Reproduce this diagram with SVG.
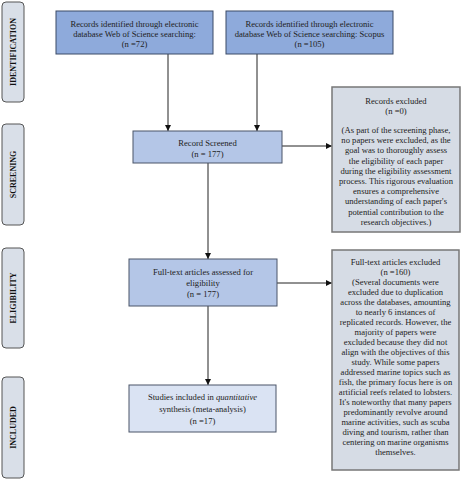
<svg xmlns="http://www.w3.org/2000/svg" width="461" height="480" viewBox="0 0 461 480">
<defs>
<style>
text{font-family:"Liberation Serif","Times New Roman",serif;font-size:8.6px;fill:#222;text-anchor:middle}
.side rect{fill:#d9dfe8;stroke:#555;stroke-width:1}
.side text{font-weight:bold;font-size:8px;fill:#111}
.b1{fill:#8eaadb;stroke:#3b4a66;stroke-width:1}
.b2{fill:#b4c6e7;stroke:#4a5568;stroke-width:1}
.b3{fill:#dae3f3;stroke:#4a5568;stroke-width:1}
.ex{fill:#d6dce5;stroke:#777;stroke-width:1.5}
.conn path{fill:none;stroke:#222;stroke-width:1}
</style>
<marker id="ah" viewBox="0 0 10 10" refX="10" refY="5" markerWidth="6" markerHeight="6" orient="auto" markerUnits="userSpaceOnUse">
<path d="M0,0 L10,5 L0,10 z" fill="#111"/>
</marker>
</defs>
<rect width="461" height="480" fill="#fff"/>

<g id="label-identification" class="side">
<rect x="2" y="2" width="22" height="100" rx="4"/>
<text transform="translate(16,52) rotate(-90)">IDENTIFICATION</text>
</g>
<g id="label-screening" class="side">
<rect x="2" y="124" width="22" height="101" rx="4"/>
<text transform="translate(16,174.5) rotate(-90)">SCREENING</text>
</g>
<g id="label-eligibility" class="side">
<rect x="2" y="248" width="22" height="100" rx="4"/>
<text transform="translate(16,298) rotate(-90)">ELIGIBILITY</text>
</g>
<g id="label-included" class="side">
<rect x="2" y="377" width="22" height="101" rx="4"/>
<text transform="translate(16,427.5) rotate(-90)">INCLUDED</text>
</g>

<g class="conn" id="connectors">
<path d="M168,54 V131" marker-end="url(#ah)"/>
<path d="M257,54 V131" marker-end="url(#ah)"/>
<path d="M282,146 H332" marker-end="url(#ah)"/>
<path d="M208,163 V259" marker-end="url(#ah)"/>
<path d="M277,283 H332" marker-end="url(#ah)"/>
<path d="M208,306 V385" marker-end="url(#ah)"/>
</g>

<g id="wos">
<rect class="b1" x="56" y="11" width="157" height="43"/>
<text x="134.5" y="27">Records identified through electronic</text>
<text x="134.5" y="37">database Web of Science searching:</text>
<text x="134.5" y="47">(n =72)</text>
</g>
<g id="scopus">
<rect class="b1" x="226" y="11" width="167" height="43"/>
<text x="309.5" y="27">Records identified through electronic</text>
<text x="309.5" y="37">database Web of Science searching: Scopus</text>
<text x="309.5" y="47">(n =105)</text>
</g>
<g id="screened">
<rect class="b2" x="133" y="131" width="149" height="32"/>
<text x="207.5" y="146">Record Screened</text>
<text x="207.5" y="157">(n = 177)</text>
</g>
<g id="excluded1">
<rect class="ex" x="332" y="87" width="128" height="145"/>
<text x="396" y="104">Records excluded</text>
<text x="396" y="114">(n =0)</text>
<text x="396" y="133">(As part of the screening phase,</text>
<text x="396" y="143.2">no papers were excluded, as the</text>
<text x="396" y="153.4">goal was to thoroughly assess</text>
<text x="396" y="163.6">the eligibility of each paper</text>
<text x="396" y="173.8">during the eligibility assessment</text>
<text x="396" y="184">process. This rigorous evaluation</text>
<text x="396" y="194.2">ensures a comprehensive</text>
<text x="396" y="204.4">understanding of each paper's</text>
<text x="396" y="214.6">potential contribution to the</text>
<text x="396" y="224.8">research objectives.)</text>
</g>
<g id="fulltext">
<rect class="b2" x="129" y="259" width="148" height="47"/>
<text x="203" y="275">Full-text articles assessed for</text>
<text x="203" y="286">eligibility</text>
<text x="203" y="296.5">(n = 177)</text>
</g>
<g id="excluded2">
<rect class="ex" x="332" y="250" width="127" height="220"/>
<text x="395.5" y="265">Full-text articles excluded</text>
<text x="395.5" y="275">(n =160)</text>
<text x="395.5" y="285">(Several documents were</text>
<text x="395.5" y="295">excluded due to duplication</text>
<text x="395.5" y="305">across the databases, amounting</text>
<text x="395.5" y="315">to nearly 6 instances of</text>
<text x="395.5" y="325">replicated records. However, the</text>
<text x="395.5" y="335">majority of papers were</text>
<text x="395.5" y="345">excluded because they did not</text>
<text x="395.5" y="355">align with the objectives of this</text>
<text x="395.5" y="365">study. While some papers</text>
<text x="395.5" y="375">addressed marine topics such as</text>
<text x="395.5" y="385">fish, the primary focus here is on</text>
<text x="395.5" y="395">artificial reefs related to lobsters.</text>
<text x="395.5" y="405">It's noteworthy that many papers</text>
<text x="395.5" y="415">predominantly revolve around</text>
<text x="395.5" y="425">marine activities, such as scuba</text>
<text x="395.5" y="435">diving and tourism, rather than</text>
<text x="395.5" y="445">centering on marine organisms</text>
<text x="395.5" y="455">themselves.</text>
</g>
<g id="included">
<rect class="b3" x="129" y="385" width="147" height="47"/>
<text x="202.5" y="400">Studies included in <tspan font-style="italic">quantitative</tspan></text>
<text x="202.5" y="412">synthesis (meta-analysis)</text>
<text x="202.5" y="424">(n =17)</text>
</g>
</svg>
